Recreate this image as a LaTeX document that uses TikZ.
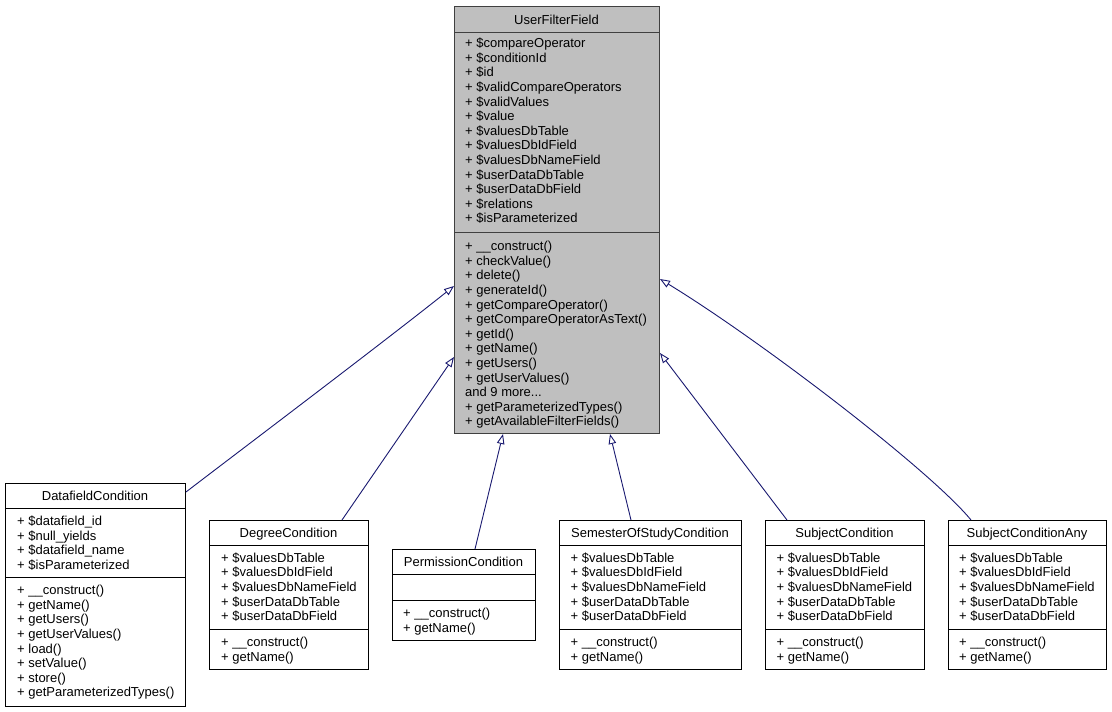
\documentclass[tikz,border=0pt]{standalone}
\usepackage{fontspec}
\setmainfont{Liberation Sans}
\usetikzlibrary{arrows.meta,calc}
\definecolor{edgeblue}{HTML}{191970}
\definecolor{boxgray}{HTML}{BFBFBF}
\definecolor{boxline}{HTML}{404040}
\newcommand\classmembers[4]{\foreach \t [count=\i] in {#4} {\node[mem] (#3\i) at (#1,{#2+14.6*(\i-1)}) {\t};}}
\newcommand\andninemore{and 9 more...}
\begin{document}
\begin{tikzpicture}[x=1pt,y=-1pt,
  cls/.style={draw=black,line width=1pt,fill=white,rectangle,inner sep=0pt,anchor=north west},
  mem/.style={anchor=base west,inner sep=0pt,yshift=-1pt,font=\fontsize{13}{14.6}\selectfont},
  ttl/.style={anchor=base,inner sep=0pt,yshift=-1pt,font=\fontsize{13}{14.6}\selectfont},
  sep/.style={draw=black,line width=1pt},
  inh/.style={draw=edgeblue,line width=0.9pt,-{Triangle[open,length=10pt,width=7.5pt,fill=white]}}]
\useasboundingbox[fill=white] (0,0) rectangle (1112,712);

% boxes
\node[cls,draw=boxline,fill=boxgray,minimum width=205pt,minimum height=427pt] (uff) at (454,6) {};
\node[cls,minimum width=180pt,minimum height=223pt] (dc) at (5,483) {};
\node[cls,minimum width=159pt,minimum height=149pt] (deg) at (209,520) {};
\node[cls,minimum width=143pt,minimum height=91pt] (perm) at (392,549) {};
\node[cls,minimum width=182pt,minimum height=149pt] (sem) at (559,520) {};
\node[cls,minimum width=159pt,minimum height=149pt] (subj) at (765,520) {};
\node[cls,minimum width=158pt,minimum height=149pt] (suba) at (948,520) {};

% separators
\draw[sep,draw=boxline] ($(uff.north west)+(0,26)$) -- ($(uff.north east)+(0,26)$);
\draw[sep,draw=boxline] ($(uff.north west)+(0,226)$) -- ($(uff.north east)+(0,226)$);
\draw[sep] ($(dc.north west)+(0,25)$) -- ($(dc.north east)+(0,25)$);
\draw[sep] ($(dc.north west)+(0,94.7)$) -- ($(dc.north east)+(0,94.7)$);
\foreach \b in {deg,sem,subj,suba}{
  \draw[sep] ($(\b.north west)+(0,25.5)$) -- ($(\b.north east)+(0,25.5)$);
  \draw[sep] ($(\b.north west)+(0,109.3)$) -- ($(\b.north east)+(0,109.3)$);
}
\draw[sep] ($(perm.north west)+(0,25.3)$) -- ($(perm.north east)+(0,25.3)$);
\draw[sep] ($(perm.north west)+(0,51)$) -- ($(perm.north east)+(0,51)$);

% edges
\draw[inh] ($(dc.north east)+(0,9)$) .. controls (225,462) and (380,345) .. ($(uff.north west)+(0,280)$);
\draw[inh] ($(deg.north west)+(133,0)$) -- ($(uff.north west)+(0,351)$);
\draw[inh] ($(perm.north west)+(83,0)$) -- ($(uff.south west)+(49,0)$);
\draw[inh] ($(sem.north west)+(72,0)$) -- ($(uff.south west)+(156,0)$);
\draw[inh] ($(subj.north west)+(22,0)$) -- ($(uff.north east)+(0,347)$);
\draw[inh] ($(suba.north west)+(23,0)$) .. controls (930,470) and (760,340) .. ($(uff.north east)+(0,273)$);

% titles
\node[ttl] (uff-t) at (556.5,23.6) {UserFilterField};
\node[ttl] (dc-t) at (95,499.1) {DatafieldCondition};
\node[ttl] (deg-t) at (288.5,536.1) {DegreeCondition};
\node[ttl] (perm-t) at (463.5,565.1) {PermissionCondition};
\node[ttl] (sem-t) at (650,536.1) {SemesterOfStudyCondition};
\node[ttl] (subj-t) at (844.5,536.1) {SubjectCondition};
\node[ttl] (suba-t) at (1027,536.1) {SubjectConditionAny};

% members
\classmembers{465}{46.6}{uffa}{+ \$compareOperator,+ \$conditionId,+ \$id,+ \$validCompareOperators,+ \$validValues,+ \$value,+ \$valuesDbTable,+ \$valuesDbIdField,+ \$valuesDbNameField,+ \$userDataDbTable,+ \$userDataDbField,+ \$relations,+ \$isParameterized}
\classmembers{465}{249.6}{uffm}{+ \_\_construct(),+ checkValue(),+ delete(),+ generateId(),+ getCompareOperator(),+ getCompareOperatorAsText(),+ getId(),+ getName(),+ getUsers(),+ getUserValues(),\andninemore,+ getParameterizedTypes(),+ getAvailableFilterFields()}

\classmembers{17}{524.6}{dca}{+ \$datafield\_id,+ \$null\_yields,+ \$datafield\_name,+ \$isParameterized}
\classmembers{17}{593.6}{dcm}{+ \_\_construct(),+ getName(),+ getUsers(),+ getUserValues(),+ load(),+ setValue(),+ store(),+ getParameterizedTypes()}

\classmembers{221}{561.3}{dega}{+ \$valuesDbTable,+ \$valuesDbIdField,+ \$valuesDbNameField,+ \$userDataDbTable,+ \$userDataDbField}
\classmembers{221}{645.6}{degm}{+ \_\_construct(),+ getName()}

\classmembers{403}{616.9}{permm}{+ \_\_construct(),+ getName()}

\classmembers{570.5}{561.3}{sema}{+ \$valuesDbTable,+ \$valuesDbIdField,+ \$valuesDbNameField,+ \$userDataDbTable,+ \$userDataDbField}
\classmembers{570.5}{645.6}{semm}{+ \_\_construct(),+ getName()}

\classmembers{776.5}{561.3}{subja}{+ \$valuesDbTable,+ \$valuesDbIdField,+ \$valuesDbNameField,+ \$userDataDbTable,+ \$userDataDbField}
\classmembers{776.5}{645.6}{subjm}{+ \_\_construct(),+ getName()}

\classmembers{959}{561.3}{subaa}{+ \$valuesDbTable,+ \$valuesDbIdField,+ \$valuesDbNameField,+ \$userDataDbTable,+ \$userDataDbField}
\classmembers{959}{645.6}{subam}{+ \_\_construct(),+ getName()}
\end{tikzpicture}
\end{document}
